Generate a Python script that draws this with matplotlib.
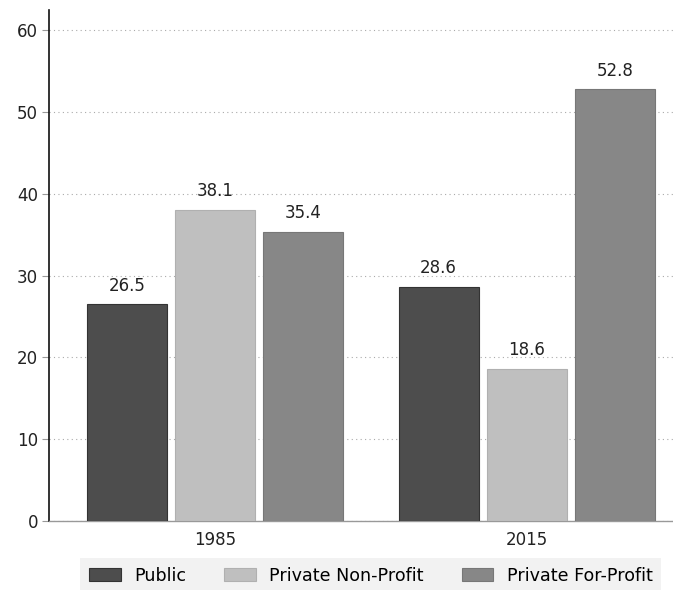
import matplotlib.pyplot as plt
import numpy as np

plt.rcParams['font.family'] = ['DejaVu Sans']

years = ["1985", "2015"]
sectors = ["Public", "Private Non-Profit", "Private For-Profit"]
values = {
    "Public": [26.5, 28.6],
    "Private Non-Profit": [38.1, 18.6],
    "Private For-Profit": [35.4, 52.8],
}
colors = ["#4d4d4d", "#bfbfbf", "#878787"]
edges = ["#333333", "#b0b0b0", "#777777"]

fig = plt.figure(figsize=(6.73, 5.9), dpi=100)
ax = fig.add_axes([0.073, 0.117, 0.927, 0.866])

x = np.arange(len(years))
width = 0.257
step = 0.283
for i, name in enumerate(sectors):
    pos = x + (i - 1) * step
    bars = ax.bar(pos, values[name], width, color=colors[i], edgecolor=edges[i],
                  linewidth=0.8, label=name, zorder=3)
    for b, v in zip(bars, values[name]):
        ax.annotate(f"{v:.1f}", (b.get_x() + b.get_width() / 2, v),
                    xytext=(0, 7), textcoords="offset points",
                    ha="center", va="bottom", fontsize=12, color="#222222",
                    zorder=4)

ax.set_xlim(-0.534, 1.47)
ax.set_ylim(0, 62.5)
ax.set_yticks([0, 10, 20, 30, 40, 50, 60])
ax.set_xticks(x)
ax.set_xticklabels(years)
ax.yaxis.grid(True, linestyle=(0, (1, 3)), color="#aaaaaa", linewidth=0.8, zorder=0)

for s in ["top", "right"]:
    ax.spines[s].set_visible(False)
ax.spines["left"].set_color("#111111")
ax.spines["left"].set_linewidth(1.2)
ax.spines["bottom"].set_color("#999999")
ax.spines["bottom"].set_linewidth(1.0)
ax.tick_params(axis="y", length=5, color="#999999", labelsize=12, labelcolor="#222222", pad=3)
ax.tick_params(axis="x", length=0, labelsize=12, labelcolor="#222222", pad=7)

leg = fig.legend(loc="lower center", bbox_to_anchor=(0.551, -0.012), ncol=3,
                 frameon=True, fontsize=12.6, handlelength=1.8, handleheight=0.75,
                 columnspacing=2.2, borderpad=0.2, handletextpad=0.75)
leg.get_frame().set_facecolor("#efefef")
leg.get_frame().set_edgecolor("none")
leg.get_frame().set_boxstyle("square")

fig.savefig("out.png", dpi=100)
